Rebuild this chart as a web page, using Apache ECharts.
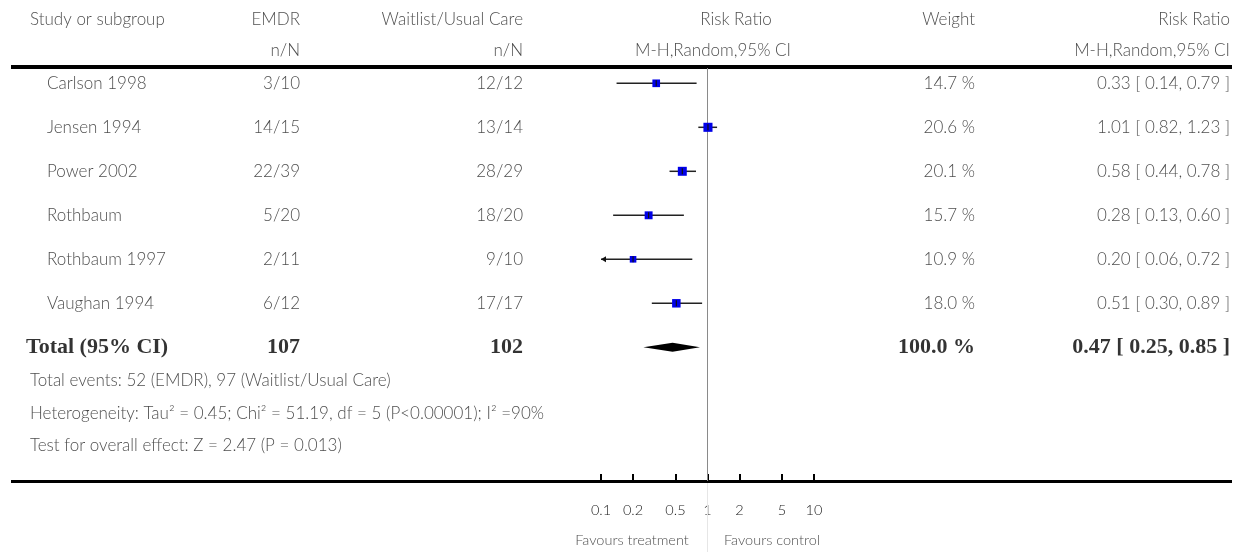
<!DOCTYPE html>
<html><head><meta charset="utf-8">
<script src="https://cdn.jsdelivr.net/npm/echarts@6/dist/echarts.min.js"></script>
<style>html,body{margin:0;padding:0;background:#fff}#chart{width:1244px;height:552px}</style>
</head><body><div id="chart"></div>
<script>
// ---------------- data ----------------
const studies = ['Carlson 1998', 'Jensen 1994', 'Power 2002', 'Rothbaum', 'Rothbaum 1997', 'Vaughan 1994'];
const emdrNN = ['3/10', '14/15', '22/39', '5/20', '2/11', '6/12'];
const ctrlNN = ['12/12', '13/14', '28/29', '18/20', '9/10', '17/17'];
const riskRatio = [0.33, 1.01, 0.58, 0.28, 0.20, 0.51];
const ciLower = [0.14, 0.82, 0.44, 0.13, 0.06, 0.30];
const ciUpper = [0.79, 1.23, 0.78, 0.60, 0.72, 0.89];
const weights = [14.7, 20.6, 20.1, 15.7, 10.9, 18.0];
const totalLabel = 'Total (95% CI)';
const totalN = [107, 102];
const totalRR = [0.47, 0.25, 0.85];
const totalWeight = 100.0;
const totalEvents = [52, 97];
const heterogeneity = ['0.45', '51.19', '5', '<0.00001', '90'];
const overallEffect = ['2.47', '0.013'];
const tickValues = [0.1, 0.2, 0.5, 1, 2, 5, 10];
const headers1 = ['Study or subgroup', 'EMDR', 'Waitlist/Usual Care', 'Risk Ratio', 'Weight', 'Risk Ratio'];
const headers2 = ['n/N', 'n/N', 'M-H,Random,95% CI', 'M-H,Random,95% CI'];
const favours = ['Favours treatment', 'Favours control'];

// ---------------- layout ----------------
const W = 1244, H = 552;
const ROW0 = 83.3, ROWH = 44;
const rowAt = px => (px - ROW0) / ROWH;
const SANS = 'Lato, "Open Sans", sans-serif';
const SERIF = '"Liberation Serif", "DejaVu Serif", serif';
const TEXT = '#1a1a1a';
const col = { name: 47, left: 30, totalLeft: 26, emdr: 300, ctrl: 523, rrMid1: 736, rrMid2: 713, weight: 975, rr: 1230 };
const fmt2 = v => v.toFixed(2);
const ciText = (r, l, u) => fmt2(r) + ' [ ' + fmt2(l) + ', ' + fmt2(u) + ' ]';

const chart = echarts.init(document.getElementById('chart'));

function textSeries(items, align, style) {
  return {
    type: 'scatter', xAxisIndex: 1, yAxisIndex: 1, symbolSize: 0, silent: true,
    animation: false, z: 5, clip: false,
    data: items.map(it => ({ value: [it[0], it[1]], name: it[2] })),
    label: Object.assign({
      show: true, position: 'inside', formatter: p => p.name, color: TEXT,
      fontFamily: SANS, fontSize: 17, fontWeight: 300, align: align, verticalAlign: 'middle'
    }, style || {})
  };
}

const rows = studies.map((s, i) => i);
const totalRow = studies.length;
const hdr1 = rowAt(20), hdr2 = rowAt(51);
const foot = [rowAt(381), rowAt(414), rowAt(446)];

const series = [];
// header
series.push(textSeries([[col.left, hdr1, headers1[0]]], 'left'));
series.push(textSeries([[col.emdr, hdr1, headers1[1]], [col.ctrl, hdr1, headers1[2]], [col.weight, hdr1, headers1[4]], [col.rr, hdr1, headers1[5]],
  [col.emdr, hdr2, headers2[0]], [col.ctrl, hdr2, headers2[1]], [col.rr, hdr2, headers2[3]]], 'right'));
series.push(textSeries([[col.rrMid1, hdr1, headers1[3]], [col.rrMid2, hdr2, headers2[2]]], 'center'));
// study rows
series.push(textSeries(rows.map(i => [col.name, i, studies[i]]), 'left'));
series.push(textSeries(rows.map(i => [col.emdr, i, emdrNN[i]]).concat(
  rows.map(i => [col.ctrl, i, ctrlNN[i]]),
  rows.map(i => [col.weight, i, weights[i].toFixed(1) + ' %']),
  rows.map(i => [col.rr, i, ciText(riskRatio[i], ciLower[i], ciUpper[i])])), 'right'));
// total row
const boldStyle = { fontFamily: SERIF, fontWeight: 'bold', fontSize: 22, color: '#000' };
series.push(textSeries([[col.totalLeft, totalRow, totalLabel]], 'left', boldStyle));
series.push(textSeries([[col.emdr, totalRow, String(totalN[0])], [col.ctrl, totalRow, String(totalN[1])],
  [col.weight, totalRow, totalWeight.toFixed(1) + ' %'], [col.rr, totalRow, ciText(totalRR[0], totalRR[1], totalRR[2])]], 'right', boldStyle));
// footnotes
series.push(textSeries([
  [col.left, foot[0], 'Total events: ' + totalEvents[0] + ' (EMDR), ' + totalEvents[1] + ' (Waitlist/Usual Care)'],
  [col.left, foot[1], 'Heterogeneity: Tau\u00b2 = ' + heterogeneity[0] + '; Chi\u00b2 = ' + heterogeneity[1] + ', df = ' + heterogeneity[2] + ' (P' + heterogeneity[3] + '); I\u00b2 =' + heterogeneity[4] + '%'],
  [col.left, foot[2], 'Test for overall effect: Z = ' + overallEffect[0] + ' (P = ' + overallEffect[1] + ')']
], 'left', { fontSize: 17 }));
// favours
series.push(textSeries([[632, rowAt(540), favours[0]], [772, rowAt(540), favours[1]]], 'center', { fontSize: 14.5 }));

// forest: study estimates
const XMIN = -1, XMAX = 1;
series.push({
  type: 'custom', xAxisIndex: 0, yAxisIndex: 0, animation: false, z: 10,
  data: rows.map(i => [i, Math.log10(ciLower[i]), Math.log10(ciUpper[i]), Math.log10(riskRatio[i]), weights[i]]),
  encode: { x: [1, 2, 3], y: 0 },
  renderItem: function (params, api) {
    const i = api.value(0), lo = api.value(1), hi = api.value(2), est = api.value(3), w = api.value(4);
    const p1 = api.coord([Math.max(lo, XMIN), i]);
    const p2 = api.coord([Math.min(hi, XMAX), i]);
    const pc = api.coord([est, i]);
    const s = 2 * Math.sqrt(w);
    const children = [
      { type: 'line', shape: { x1: p1[0], y1: p1[1], x2: p2[0], y2: p2[1] }, style: { stroke: '#222', lineWidth: 1.5 } },
      { type: 'rect', shape: { x: pc[0] - s / 2, y: pc[1] - s / 2, width: s, height: s }, style: { fill: '#0000e8' } },
      { type: 'line', shape: { x1: pc[0], y1: pc[1] - 3, x2: pc[0], y2: pc[1] + 3 }, style: { stroke: '#111', lineWidth: 1.2 } }
    ];
    if (lo < XMIN) {
      children.push({ type: 'polygon', shape: { points: [[p1[0], p1[1]], [p1[0] + 5, p1[1] - 3], [p1[0] + 5, p1[1] + 3]] }, style: { fill: '#111' } });
    }
    if (hi > XMAX) {
      children.push({ type: 'polygon', shape: { points: [[p2[0], p2[1]], [p2[0] - 5, p2[1] - 3], [p2[0] - 5, p2[1] + 3]] }, style: { fill: '#111' } });
    }
    return { type: 'group', children: children };
  },
  markLine: {
    silent: true, symbol: 'none', animation: false,
    lineStyle: { color: '#8a8a8a', width: 1, type: 'solid' },
    label: { show: false },
    data: [{ xAxis: Math.log10(1) }]
  }
});
// forest: pooled diamond
series.push({
  type: 'custom', xAxisIndex: 0, yAxisIndex: 0, animation: false, z: 10,
  data: [[totalRow, Math.log10(totalRR[1]), Math.log10(totalRR[2]), Math.log10(totalRR[0])]],
  encode: { x: [1, 2, 3], y: 0 },
  renderItem: function (params, api) {
    const i = api.value(0);
    const pl = api.coord([api.value(1), i]);
    const ph = api.coord([api.value(2), i]);
    const pc = api.coord([api.value(3), i]);
    return { type: 'polygon', shape: { points: [[pl[0], pl[1]], [pc[0], pc[1] - 4.5], [ph[0], ph[1]], [pc[0], pc[1] + 4.5]] }, style: { fill: '#000' } };
  }
});

const logTicks = tickValues.map(v => Math.log10(v));
const option = {
  backgroundColor: '#fff',
  animation: false,
  grid: [
    { left: 601, width: 213, top: 68, height: 413 },
    { left: 0, top: 0, width: W, height: H }
  ],
  xAxis: [
    {
      gridIndex: 0, type: 'value', min: XMIN, max: XMAX, position: 'bottom',
      axisLine: { show: false, onZero: false },
      axisTick: { show: true, inside: true, length: 7, customValues: logTicks, lineStyle: { color: '#000', width: 2 } },
      axisLabel: {
        show: true, customValues: logTicks, margin: 22, color: TEXT, fontFamily: SANS, fontSize: 14.5, fontWeight: 300,
        formatter: v => { const r = Math.pow(10, v); return r < 0.95 ? r.toFixed(1) : String(Math.round(r)); }
      },
      splitLine: { show: false }
    },
    { gridIndex: 1, type: 'value', min: 0, max: W, show: false }
  ],
  yAxis: [
    { gridIndex: 0, type: 'value', inverse: true, min: rowAt(68), max: rowAt(481), show: false },
    { gridIndex: 1, type: 'value', inverse: true, min: rowAt(0), max: rowAt(H), show: false }
  ],
  graphic: [
    { type: 'rect', shape: { x: 11, y: 65, width: 1221, height: 4 }, style: { fill: '#000' }, z: 1 },
    { type: 'rect', shape: { x: 11, y: 480, width: 1221, height: 3 }, style: { fill: '#000' }, z: 1 },
    { type: 'line', shape: { x1: 707.5, y1: 483, x2: 707.5, y2: 552 }, style: { stroke: '#e6e6e6', lineWidth: 1 }, z: 1 }
  ],
  series: series
};
chart.setOption(option);
</script>
</body></html>
